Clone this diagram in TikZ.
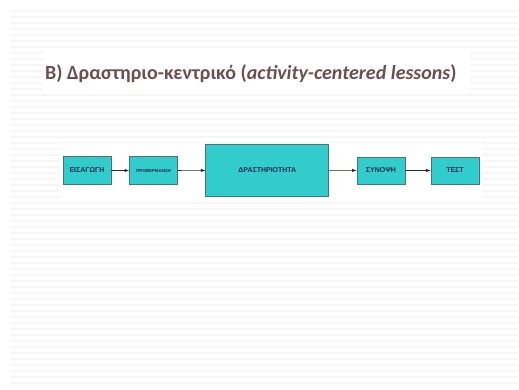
\documentclass[tikz,border=0pt]{standalone}
\usepackage{fontspec}
\setmainfont{Liberation Sans}
\newfontfamily\titlefont{Carlito}
\definecolor{turkoosi}{RGB}{51,204,204}
\definecolor{reuna}{RGB}{80,110,130}
\definecolor{otsikko}{RGB}{110,78,78}
\definecolor{nuoli}{RGB}{30,40,80}

\begin{document}
\begin{tikzpicture}[x=1pt,y=-1pt]
\newcommand\stepbox[6]{
\node[draw=reuna,fill=turkoosi,line width=0.8pt,minimum width=#4pt,minimum height=#5pt,inner sep=0pt,
  font=\bfseries\fontsize{#6}{#6}\selectfont,text=nuoli] (#1) at (#2) {#3};
}
\useasboundingbox (0,0) rectangle (519,390);
\fill[white] (0,0) rectangle (519,390);
% stripes
\foreach \y in {11,17,...,386} \draw[black!3.5,line width=1.8pt] (10,\y) -- (518,\y);
\fill[white] (43,52) rectangle (470,92);
\fill[white] (60,143) rectangle (482,200);
% title
\node[anchor=base west,inner sep=0pt,text=otsikko,font=\titlefont\bfseries\fontsize{20}{24}\selectfont] (title) at (45,80)
  {B) Δραστηριο-κεντρικό (\textit{activity-centered lessons})};
% stages
\stepbox{eis}{87,170.5}{ΕΙΣΑΓΩΓΗ}{48}{27.5}{7}
\stepbox{pro}{153.5,170.5}{ΠΡΟΘΕΡΜΑΝΣΗ}{48}{28}{4.4}
\stepbox{dra}{267.3,170.3}{ΔΡΑΣΤΗΡΙΟΤΗΤΑ}{123}{52.5}{7}
\stepbox{syn}{381,170.5}{ΣΥΝΟΨΗ}{48}{27}{7}
\stepbox{tes}{455,170.5}{ΤΕΣΤ}{48}{27}{7}
\draw[nuoli,->,>=latex,line width=0.6pt] (eis) -- (pro);
\draw[nuoli,->,>=latex,line width=0.6pt] (pro) -- (dra);
\draw[nuoli,->,>=latex,line width=0.6pt] (dra) -- (syn);
\draw[nuoli,->,>=latex,line width=0.6pt] (syn) -- (tes);
\end{tikzpicture}
\end{document}
